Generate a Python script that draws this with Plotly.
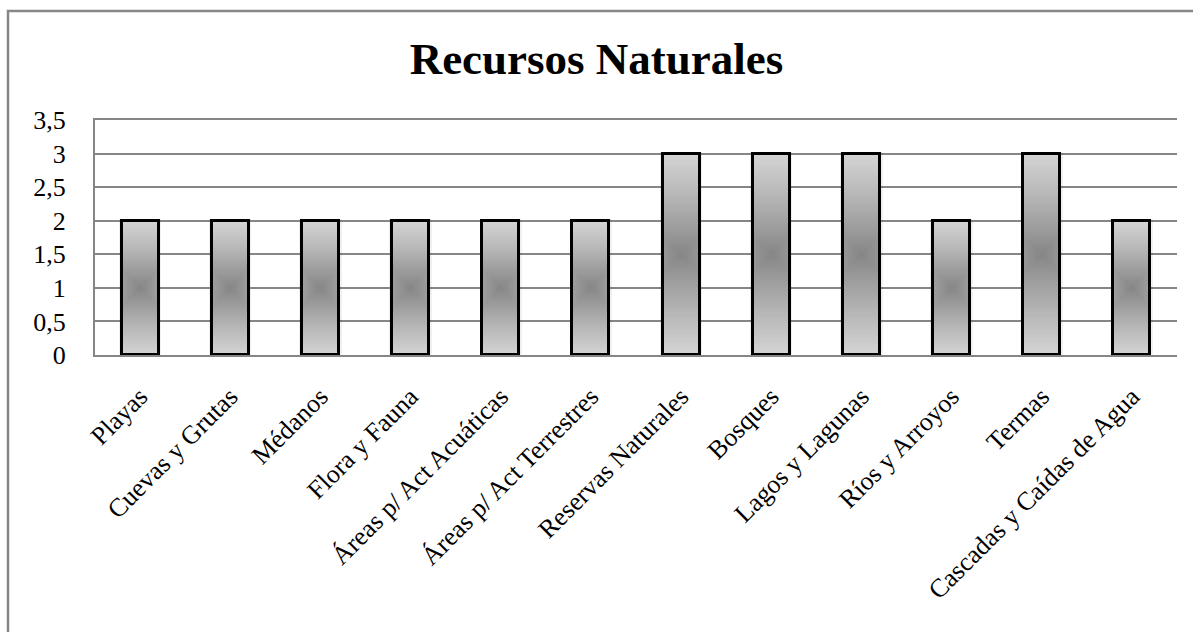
import plotly.graph_objects as go

categories = ["Playas", "Cuevas y Grutas", "Médanos", "Flora y Fauna",
              "Áreas p/ Act Acuáticas", "Áreas p/ Act Terrestres",
              "Reservas Naturales", "Bosques", "Lagos y Lagunas",
              "Ríos y Arroyos", "Termas", "Cascadas y Caídas de Agua"]
values = [2, 2, 2, 2, 2, 2, 3, 3, 3, 2, 3, 2]
y_tickvals = [0, 0.5, 1, 1.5, 2, 2.5, 3, 3.5]
y_ticktext = ["0", "0,5", "1", "1,5", "2", "2,5", "3", "3,5"]
title_text = "Recursos Naturales"

FONT = "Liberation Serif, Times New Roman, serif"
BAR_W = 0.41

# layout geometry (screen pixels)
W, H = 1193, 632
pl, pr, pt, pb = 95, 16, 120, 277
pw, ph = W - pl - pr, H - pt - pb
X_PX = pw / len(categories)   # pixels per category unit
Y_PX = ph / 3.5               # pixels per y unit

fig = go.Figure()

# soft shadow halo
fig.add_trace(go.Bar(x=categories, y=[v + 0.03 for v in values], base=-0.0,
                     width=BAR_W + 0.06,
                     marker=dict(color="rgba(0,0,0,0.06)", line=dict(width=0)),
                     hoverinfo="skip", showlegend=False))

# gradient layers approximating a path/radial gradient from the bar centre
N = 45
for i in range(N):
    t = 1 - i / N
    g = int(round(132 + (212 - 132) * t ** 0.9))
    col = f"rgb({g},{g},{g})"
    widths = [min(BAR_W, t * v * Y_PX / X_PX) for v in values]
    fig.add_trace(go.Bar(
        x=categories,
        y=[v * t for v in values],
        base=[v * (1 - t) / 2 for v in values],
        width=widths,
        marker=dict(color=col, line=dict(width=0)),
        hoverinfo="skip", showlegend=False))

# outline
fig.add_trace(go.Bar(x=categories, y=values, width=BAR_W,
                     marker=dict(color="rgba(0,0,0,0)", line=dict(color="black", width=3)),
                     showlegend=False))

def px(x):
    return (x - pl) / pw
def py(y):
    return (H - pb - y) / ph
fig.add_shape(type="rect", xref="paper", yref="paper",
              x0=px(8), x1=px(1215), y0=py(660), y1=py(11),
              line=dict(color="#878787", width=2.5), fillcolor="rgba(0,0,0,0)", layer="below")

fig.update_layout(
    barmode="overlay",
    width=W, height=H,
    margin=dict(l=pl, r=pr, t=pt, b=pb, autoexpand=False),
    paper_bgcolor="white", plot_bgcolor="white",
    title=dict(text=f"<b>{title_text}</b>", x=0.5, xref="container", xanchor="center",
               y=1 - 58 / H, yanchor="middle",
               font=dict(family=FONT, size=45, color="black")),
    font=dict(family=FONT, size=26, color="black"),
    bargap=0,
)
fig.update_xaxes(tickangle=-45, showline=True, linecolor="#868686", linewidth=2,
                 mirror=True,
                 showgrid=False, ticks="", ticklabelstandoff=14,
                 tickfont=dict(family=FONT, size=26, color="black"))
fig.update_yaxes(range=[0, 3.5], tickvals=y_tickvals, ticktext=y_ticktext,
                 showline=True, linecolor="#868686", linewidth=2,
                 showgrid=True, gridcolor="#868686", gridwidth=2, zeroline=False,
                 ticks="", ticklabelstandoff=22,
                 tickfont=dict(family=FONT, size=26, color="black"))

fig.write_html("out.html", config={"displayModeBar": False},
               post_script="document.body.style.margin='0';document.body.style.overflow='hidden';")
